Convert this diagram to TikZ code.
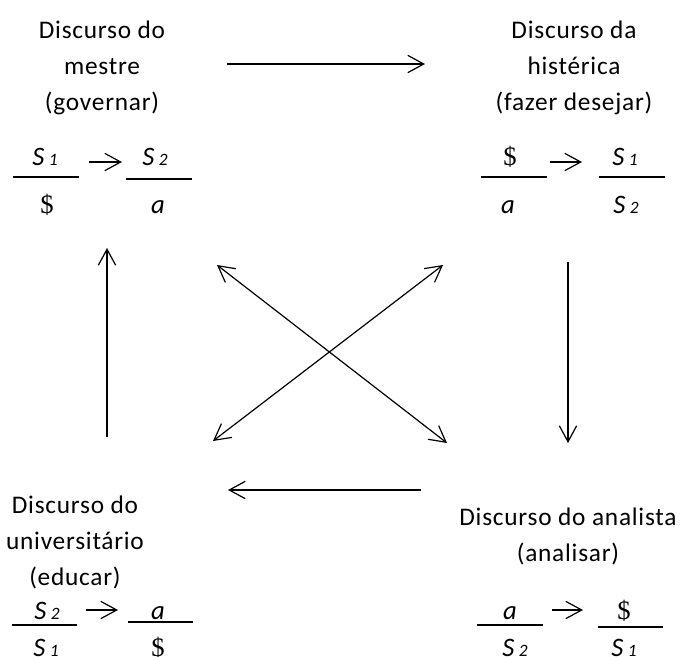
\documentclass[tikz,border=0pt]{standalone}
\usepackage{fontspec}
\setmainfont{Carlito}
\newfontfamily\titlefont{Carlito}[LetterSpace=3]
\newfontfamily\dollarfont{Liberation Serif}
\usetikzlibrary{arrows.meta}

\newcommand{\Sx}[1]{S\,{\fontsize{13}{13}\selectfont #1}}

\begin{document}
\begin{tikzpicture}[
    x=0.75pt, y=-0.75pt,
    disc/.style = {
        align=center,
        inner sep=0pt,
        anchor=base,
        font=\titlefont\fontsize{19}{27}\selectfont
    },
    term/.style = {
        inner sep=0pt,
        anchor=base,
        text height=9pt,
        text depth=4.5pt,
        font=\fontsize{20}{20}\selectfont\itshape
    },
    bar/.style = {line width=1pt},
    arrow/.style = {
        -{Straight Barb[length=12pt,width=13pt]},
        line width=0.9pt
    },
    twoway/.style = {
        {Straight Barb[length=12pt,width=13pt]}-{Straight Barb[length=12pt,width=13pt]},
        line width=0.9pt
    }
]
\useasboundingbox (0,0) rectangle (683,657);

\node[disc] (mestre) at (102,110) {Discurso do\\mestre\\(governar)};
\node[disc] (histerica) at (574,110) {Discurso da\\histérica\\(fazer desejar)};
\node[disc] (universitario) at (75,585) {Discurso do\\universitário\\(educar)};
\node[disc] (analista) at (568,561) {Discurso do analista\\(analisar)};

\node[term] (ml-num) at (45,165) {\Sx{1}};
\node[term] (ml-den) at (47,213) {\dollarfont\upshape\$};
\node[term] (mr-num) at (155,165) {\Sx{2}};
\node[term] (mr-den) at (158,213) {a};
\draw[bar] (13,177) -- (79,177);
\draw[bar] (126,179) -- (192,179);

\node[term] (hl-num) at (510,165) {\dollarfont\upshape\$};
\node[term] (hl-den) at (508,213) {a};
\node[term] (hr-num) at (625,165) {\Sx{1}};
\node[term] (hr-den) at (626,213) {\Sx{2}};
\draw[bar] (481,177) -- (547,177);
\draw[bar] (599,177) -- (665,177);

\node[term] (ul-num) at (47,619) {\Sx{2}};
\node[term] (ul-den) at (46,656) {\Sx{1}};
\node[term] (ur-num) at (158,619) {a};
\node[term] (ur-den) at (158,656) {\dollarfont\upshape\$};
\draw[bar] (12,625) -- (77,625);
\draw[bar] (128,622) -- (193,622);

\node[term] (al-num) at (510,619) {a};
\node[term] (al-den) at (515,656) {\Sx{2}};
\node[term] (ar-num) at (624,619) {\dollarfont\upshape\$};
\node[term] (ar-den) at (624,656) {\Sx{1}};
\draw[bar] (477,625) -- (543,625);
\draw[bar] (598,627) -- (663,627);

\draw[arrow, shorten <=33pt, shorten >=24.75pt] (ml-num.center) -- (mr-num.center);
\draw[arrow, shorten <=30pt, shorten >=32.25pt] (hl-num.center) -- (hr-num.center);
\draw[arrow, shorten <=29.25pt, shorten >=30pt] ([yshift=4.5pt]ul-num.center) -- ([yshift=4.5pt]ur-num.center);
\draw[arrow, shorten <=31.5pt, shorten >=30.75pt] ([yshift=4.5pt]al-num.center) -- ([yshift=4.5pt]ar-num.center);

\draw[arrow, shorten <=93.75pt, shorten >=111.75pt] ([yshift=34.5pt]mestre.base) -- ([yshift=34.5pt]histerica.base);
\draw[arrow, shorten <=114pt, shorten >=88.5pt] (histerica.base -| analista.base) -- (analista.base);
\draw[arrow, shorten <=110.25pt, shorten >=114.75pt] ([yshift=53.25pt]analista.base) -- ([yshift=53.25pt]analista.base -| universitario.base);
\draw[arrow, shorten <=111pt, shorten >=103.5pt] ([xshift=3.75pt]mestre.base |- universitario.base) -- ([xshift=3.75pt]mestre.base);

\coordinate (xnw) at (217,265);
\coordinate (xse) at (447,443);
\coordinate (xne) at (443,265);
\coordinate (xsw) at (213,441);
\draw[twoway] (xnw) -- (xse);
\draw[twoway] (xne) -- (xsw);

\end{tikzpicture}
\end{document}
